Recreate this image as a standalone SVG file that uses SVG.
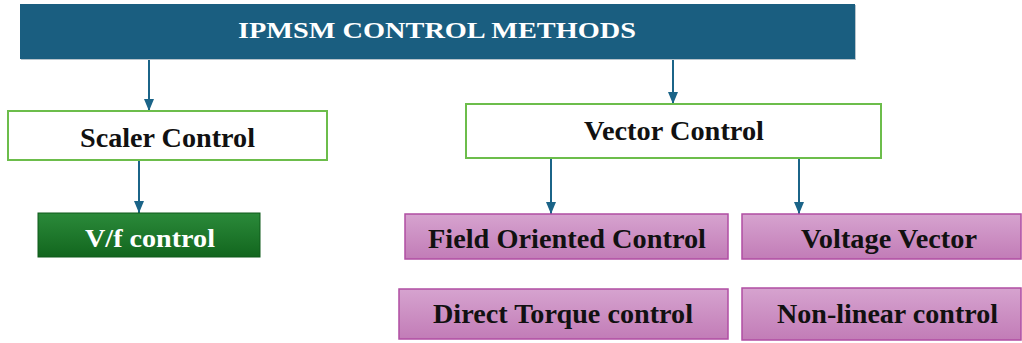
<svg xmlns="http://www.w3.org/2000/svg" width="1022" height="343" viewBox="0 0 1022 343">
  <defs>
    <linearGradient id="pink" x1="0" y1="0" x2="0" y2="1">
      <stop offset="0" stop-color="#d6a3cf"/>
      <stop offset="1" stop-color="#c27cb7"/>
    </linearGradient>
    <linearGradient id="green" x1="0" y1="0" x2="0" y2="1">
      <stop offset="0" stop-color="#2b8a3a"/>
      <stop offset="1" stop-color="#12661e"/>
    </linearGradient>
    <marker id="arr" markerWidth="12" markerHeight="10" refX="12" refY="5" orient="auto" markerUnits="userSpaceOnUse" viewBox="0 0 12 10">
      <path d="M0,0 L12,5 L0,10 Z" fill="#1b6488"/>
    </marker>
    <style>
      .title { font-family: "Liberation Serif", serif; font-weight: bold; font-size: 24px; fill: #ffffff; text-anchor: middle; }
      .lbl { font-family: "Liberation Serif", serif; font-weight: bold; font-size: 27px; fill: #111111; text-anchor: middle; }
      .wlbl { font-family: "Liberation Serif", serif; font-weight: bold; font-size: 26px; fill: #ffffff; text-anchor: middle; }
      .white { fill: #ffffff; stroke: #6cbd4b; stroke-width: 2; }
      .pinkbox { fill: url(#pink); stroke: #b04ea3; stroke-width: 1.5; }
      .greenbox { fill: url(#green); stroke: #0f5a1a; stroke-width: 1; }
      .conn { stroke: #1b6488; stroke-width: 2; fill: none; marker-end: url(#arr); }
    </style>
  </defs>
  <rect width="1022" height="343" fill="#ffffff"/>

  <g id="connectors">
    <line class="conn" x1="149" y1="59" x2="149" y2="111"/>
    <line class="conn" x1="673" y1="59" x2="673" y2="104"/>
    <line class="conn" x1="139" y1="160" x2="139" y2="213"/>
    <line class="conn" x1="551" y1="158" x2="551" y2="214"/>
    <line class="conn" x1="799" y1="158" x2="799" y2="214"/>
  </g>

  <g id="title">
    <rect x="21" y="5" width="835" height="55" fill="#b8c4cc"/>
    <rect x="20" y="4" width="835" height="55" fill="#1a5e80"/>
    <text class="title" x="437" y="38" textLength="398" lengthAdjust="spacingAndGlyphs">IPMSM CONTROL METHODS</text>
  </g>

  <g id="scaler">
    <rect class="white" x="8" y="111" width="319" height="49"/>
    <text class="lbl" x="167.5" y="147" textLength="175" lengthAdjust="spacingAndGlyphs">Scaler Control</text>
  </g>

  <g id="vector">
    <rect class="white" x="466" y="104" width="415" height="54"/>
    <text class="lbl" x="674" y="140" textLength="180" lengthAdjust="spacingAndGlyphs">Vector Control</text>
  </g>

  <g id="vf">
    <rect class="greenbox" x="38" y="213" width="222" height="44"/>
    <text class="wlbl" x="150" y="247" textLength="130" lengthAdjust="spacingAndGlyphs">V/f control</text>
  </g>

  <g id="foc">
    <rect class="pinkbox" x="405" y="214" width="323" height="45"/>
    <text class="lbl" x="567" y="248" textLength="278" lengthAdjust="spacingAndGlyphs">Field Oriented Control</text>
  </g>

  <g id="vv">
    <rect class="pinkbox" x="742" y="214" width="279" height="45"/>
    <text class="lbl" x="889" y="248" textLength="176" lengthAdjust="spacingAndGlyphs">Voltage Vector</text>
  </g>

  <g id="dtc">
    <rect class="pinkbox" x="399" y="289" width="329" height="50"/>
    <text class="lbl" x="563" y="323" textLength="260" lengthAdjust="spacingAndGlyphs">Direct Torque control</text>
  </g>

  <g id="nlc">
    <rect class="pinkbox" x="742" y="288" width="279" height="52"/>
    <text class="lbl" x="887.5" y="323" textLength="221" lengthAdjust="spacingAndGlyphs">Non-linear control</text>
  </g>
</svg>
